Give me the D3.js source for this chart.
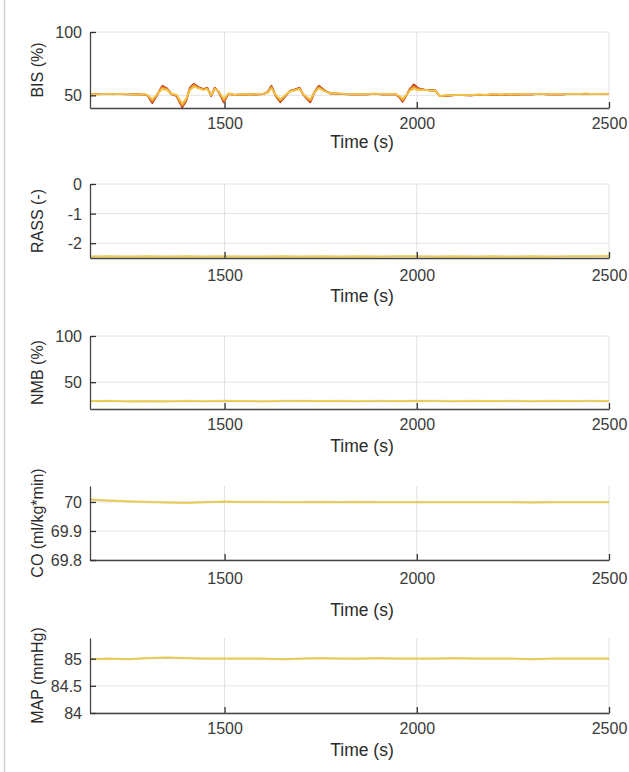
<!DOCTYPE html>
<html>
<head>
<meta charset="utf-8">
<script src="https://cdn.jsdelivr.net/npm/d3@7"></script>
<style>
  html, body { margin: 0; padding: 0; background: #fff; }
  svg { display: block; }
  text { font-family: "Liberation Sans", Arial, sans-serif; }
</style>
</head>
<body>
<svg id="chart" width="629" height="772"></svg>
<script>
// ---- Time axes -------------------------------------------------------
const timeDomain = [1150, 2500];
const timeTicks = [1500, 2000, 2500];

// BIS samples (s) — denser around the stimulation episodes
const bisTime = [1150,1170,1190,1210,1230,1250,1270,1290,
  1300,1312,1325,1338,1350,1362,1375,1390,1400,1410,
  1420,1432,1445,1455,1465,1475,1485,1498,1510,1525,
  1545,1565,1585,1600,1612,1622,1633,1645,1657,1670,
  1682,1695,1705,1715,1723,1733,1745,1760,1775,1790,
  1810,1830,1850,1870,1890,1910,1930,1945,1955,1963,
  1972,1982,1992,2005,2020,2035,2048,2060,2080,2100,
  2120,2140,2160,2180,2200,2220,2240,2260,2280,2300,
  2320,2340,2360,2380,2400,2420,2440,2460,2480,2500];

// BIS (%) per patient, strongest responder first
const bisRed = [50.8,51.0,50.9,51.1,51.0,50.8,50.9,50.8,
  49.8,44.0,50.5,57.5,55.5,51.0,49.5,40.6,45.5,56.0,
  59.0,56.5,55.0,56.0,49.5,56.0,52.5,44.5,51.2,50.3,
  50.6,50.5,50.8,51.0,52.5,57.5,49.5,44.5,49.0,53.5,
  54.5,56.0,50.5,47.0,44.5,52.0,57.5,54.0,51.5,51.3,
  51.0,50.8,51.0,50.8,51.1,50.8,51.0,50.8,48.5,45.0,
  49.5,55.0,58.5,55.5,54.5,54.0,53.8,49.3,49.8,50.1,
  50.2,50.0,50.4,50.3,50.6,50.4,50.8,50.6,51.0,50.8,
  51.1,50.8,51.0,50.8,51.1,50.9,51.2,50.9,51.1,51.0];
const bisOrangeRed = [50.9,50.9,51.0,51.0,51.1,50.9,50.8,50.9,
  49.9,44.8,50.6,56.9,55.1,51.0,49.8,41.3,46.0,55.5,
  58.5,56.2,54.8,55.8,49.8,55.8,52.6,45.2,51.2,50.3,
  50.6,50.5,50.8,51.0,52.3,57.0,49.8,45.2,49.2,53.3,
  54.3,55.7,50.6,47.4,45.2,52.0,57.0,53.8,51.5,51.3,
  51.0,50.8,51.0,50.8,51.1,50.8,51.0,50.8,48.7,45.6,
  49.6,54.6,57.6,55.2,54.4,54.0,53.8,49.3,49.8,50.1,
  50.2,50.0,50.4,50.3,50.6,50.4,50.8,50.6,51.0,50.8,
  51.1,50.8,51.0,50.8,51.1,50.9,51.2,50.9,51.1,51.0];
const bisOrange = [50.9,50.9,51.0,51.0,51.1,50.9,50.8,50.9,
  50.0,45.5,50.8,56.3,54.8,51.1,50.0,42.0,46.5,55.0,
  58.0,56.0,54.6,55.5,50.0,55.5,52.8,46.0,51.3,50.4,
  50.7,50.5,50.9,51.1,52.2,56.5,50.0,45.8,49.5,53.2,
  54.2,55.4,50.8,47.8,45.8,52.0,56.5,53.6,51.5,51.4,
  51.1,50.9,51.1,50.9,51.2,50.9,51.1,50.9,49.0,46.2,
  49.8,54.2,56.8,54.8,54.3,53.9,53.7,49.4,49.9,50.2,
  50.3,50.1,50.5,50.4,50.7,50.5,50.9,50.7,51.1,50.9,
  51.2,50.9,51.1,50.9,51.2,51.0,51.3,51.0,51.2,51.1];
const bisYellow = [51.0,50.6,51.3,50.8,51.4,50.9,50.6,51.1,
  50.2,47.0,51.0,55.0,54.2,51.2,50.6,43.5,47.5,54.0,
  56.8,55.5,54.2,55.0,50.5,55.0,53.0,47.5,51.5,50.4,
  50.9,50.5,51.1,51.3,52.0,55.5,50.5,47.0,50.0,53.0,
  54.0,54.8,51.0,48.5,47.0,52.0,55.5,53.2,51.5,51.7,
  51.1,51.0,51.4,50.9,51.5,50.9,51.3,51.0,49.5,47.5,
  50.0,53.5,55.0,54.0,54.3,53.7,53.6,49.6,50.1,50.2,
  50.5,50.1,50.7,50.4,50.9,50.5,51.1,50.7,51.3,50.9,
  51.4,50.9,51.3,50.9,51.4,51.0,51.5,51.0,51.4,51.2];

// Slowly varying signals, sampled every 50 s
const flatTime = [1150,1200,1250,1300,1350,1400,1450,1500,1550,1600,
  1650,1700,1750,1800,1850,1900,1950,2000,2050,2100,
  2150,2200,2250,2300,2350,2400,2450,2500];
const rassValues = [-2.45,-2.44,-2.45,-2.44,-2.45,-2.44,-2.45,-2.44,-2.45,-2.45,
  -2.44,-2.45,-2.44,-2.45,-2.44,-2.45,-2.44,-2.44,-2.45,-2.44,
  -2.45,-2.44,-2.45,-2.44,-2.45,-2.44,-2.44,-2.43];
const nmbValues = [29.5,29.8,29.2,29.5,29.3,29.6,29.4,29.7,29.5,29.3,
  29.6,29.8,29.5,29.7,29.4,29.6,29.5,29.8,29.6,29.4,
  29.7,29.5,29.6,29.4,29.7,29.5,29.6,29.5];
const coValues = [70.008,70.005,70.002,70.000,69.998,69.997,69.999,70.001,70.000,70.000,
  69.999,69.999,70.000,69.999,70.000,69.999,69.999,69.999,69.999,69.999,
  69.999,69.999,69.999,69.998,69.999,69.999,69.999,69.999];
const mapValues = [84.99,85.00,84.99,85.01,85.02,85.01,85.00,85.00,85.00,85.00,
  84.99,85.00,85.01,85.00,85.00,85.01,85.00,85.00,85.00,85.01,
  85.00,85.00,85.00,84.99,85.00,85.00,85.00,85.00];

// Y tick labels per panel
const bisTicks = [50, 100];
const rassTicks = [-2, -1, 0];
const nmbTicks = [50, 100];
const coTicks = [69.8, 69.9, 70];
const mapTicks = [84, 84.5, 85];

// ---- Panel layout ----------------------------------------------------
const left = 90, right = 609;
const panels = [
  { label: "BIS (%)", top: 32, bottom: 108, tickY: 123, titleY: 142,
    domain: [40, 100], ticks: bisTicks,
    series: [
      { x: bisTime, y: bisRed, color: "#b3261c" },
      { x: bisTime, y: bisOrangeRed, color: "#d9541f" },
      { x: bisTime, y: bisOrange, color: "#ec9a2c" },
      { x: bisTime, y: bisYellow, color: "#efc64a" }
    ] },
  { label: "RASS (-)", top: 184, bottom: 258, tickY: 275, titleY: 296,
    domain: [-2.5, 0], ticks: rassTicks,
    series: [{ x: flatTime, y: rassValues, color: "#e9ca4c" }] },
  { label: "NMB (%)", top: 336, bottom: 409, tickY: 424, titleY: 446,
    domain: [21, 100], ticks: nmbTicks,
    series: [{ x: flatTime, y: nmbValues, color: "#e9ca4c" }] },
  { label: "CO (ml/kg*min)", top: 486, bottom: 560, tickY: 578, titleY: 610,
    domain: [69.8, 70.055], ticks: coTicks,
    series: [{ x: flatTime, y: coValues, color: "#e9ca4c" }] },
  { label: "MAP (mmHg)", top: 638, bottom: 713, tickY: 728, titleY: 750,
    domain: [84, 85.38], ticks: mapTicks,
    series: [{ x: flatTime, y: mapValues, color: "#e9ca4c" }] }
];

// plain number labels with an ASCII minus
const tickText = d => String(d);

const svg = d3.select("#chart");

// thin frame line down the left edge of the figure
svg.append("line")
  .attr("x1", 4.5).attr("x2", 4.5).attr("y1", 0).attr("y2", 772)
  .attr("stroke", "#d4d4d4").attr("stroke-width", 1.5);

const x = d3.scaleLinear().domain(timeDomain).range([left, right]);

panels.forEach(p => {
  const y = d3.scaleLinear().domain(p.domain).range([p.bottom, p.top]);
  const g = svg.append("g");

  // grid
  g.selectAll(".vgrid").data(timeTicks).join("line")
    .attr("x1", d => x(d)).attr("x2", d => x(d))
    .attr("y1", p.top).attr("y2", p.bottom)
    .attr("stroke", "#e2e2e2").attr("stroke-width", 1);
  g.selectAll(".hgrid").data(p.ticks).join("line")
    .attr("x1", left).attr("x2", right)
    .attr("y1", d => y(d)).attr("y2", d => y(d))
    .attr("stroke", "#e2e2e2").attr("stroke-width", 1);

  // data
  const clipId = "clip" + p.top;
  svg.append("clipPath").attr("id", clipId).append("rect")
    .attr("x", left).attr("y", p.top - 1).attr("width", right - left).attr("height", p.bottom - p.top + 1);
  const lines = g.append("g").attr("clip-path", `url(#${clipId})`);
  p.series.forEach(s => {
    const line = d3.line().x((d, k) => x(s.x[k])).y(d => y(d));
    if (p.series.length === 1) {
      lines.append("path").attr("d", line(s.y))
        .attr("fill", "none").attr("stroke", "#d2ad45").attr("stroke-width", 2.4).attr("opacity", 0.35);
    }
    lines.append("path").attr("d", line(s.y))
      .attr("fill", "none").attr("stroke", s.color)
      .attr("stroke-width", p.series.length === 1 ? 1.6 : 1.8)
      .attr("stroke-linejoin", "round");
  });

  // x axis (ticks pointing inward)
  const xa = g.append("g").attr("transform", `translate(0,${p.bottom})`)
    .call(d3.axisBottom(x).tickValues(timeTicks).tickSizeInner(-6).tickSizeOuter(0).tickFormat(tickText));
  xa.select(".domain").attr("stroke", "#454545").attr("stroke-width", 1.3);
  xa.selectAll(".tick line").attr("stroke", "#333").attr("stroke-width", 1.3);
  xa.selectAll(".tick text")
    .attr("y", p.tickY - p.bottom).attr("dy", "0.35em")
    .attr("fill", "#3a3a3a").attr("font-size", 16)
    .style("font-family", "'Liberation Sans', Arial, sans-serif");

  // y axis
  const ya = g.append("g").attr("transform", `translate(${left},0)`)
    .call(d3.axisLeft(y).tickValues(p.ticks).tickSizeInner(-6).tickSizeOuter(0).tickFormat(tickText));
  ya.select(".domain").attr("stroke", "#454545").attr("stroke-width", 1.3);
  ya.selectAll(".tick line").attr("stroke", "#333").attr("stroke-width", 1.3);
  ya.selectAll(".tick text")
    .attr("x", -8).attr("dy", "0.35em")
    .attr("fill", "#3a3a3a").attr("font-size", 16)
    .style("font-family", "'Liberation Sans', Arial, sans-serif");

  // axis titles
  g.append("text")
    .attr("x", 362).attr("y", p.titleY).attr("dy", "0.35em")
    .attr("text-anchor", "middle").attr("font-size", 17.5).attr("fill", "#2b2b2b")
    .text("Time (s)");
  g.append("text")
    .attr("transform", `translate(37,${(p.top + p.bottom) / 2}) rotate(-90)`)
    .attr("dy", "0.35em").attr("text-anchor", "middle")
    .attr("font-size", 16).attr("fill", "#2b2b2b")
    .text(p.label);
});
</script>
</body>
</html>
